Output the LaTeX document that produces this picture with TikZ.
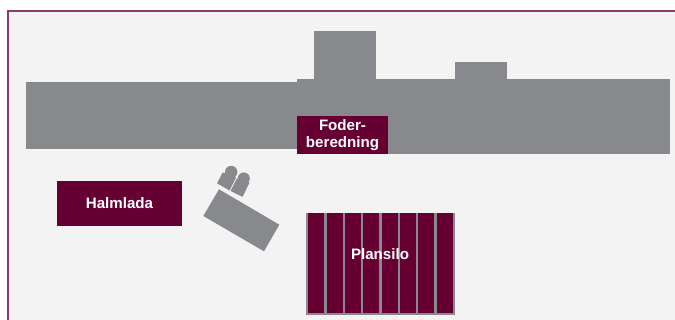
\documentclass[tikz,border=0pt]{standalone}
\usepackage{fontspec}
\setmainfont{Liberation Sans}
\usepackage{xcolor}
\usetikzlibrary{positioning}
\definecolor{wine}{HTML}{660033}
\definecolor{frameline}{HTML}{8A3A6E}
\definecolor{shed}{HTML}{88898C}
\definecolor{yard}{HTML}{F3F3F3}
\tikzset{
  namebox/.style={fill=wine,text=white,font=\fontsize{8.6}{10.5}\selectfont\bfseries,align=center,inner sep=0pt},
  siloline/.style={fill=shed}
}
\begin{document}
\begin{tikzpicture}[x=0.02cm,y=-0.02cm]
  \useasboundingbox (0,0) rectangle (675,320);
  % ground and frame
  \fill[yard] (8,11) rectangle (675,320);
  \draw[frameline,line width=1.1pt] (8,320)--(8,11)--(675,11);
  % barn
  \fill[shed] (26,82) rectangle (297,149);
  \fill[shed] (297,79) rectangle (670,154);
  \fill[shed] (314,31) rectangle (376,79);
  \fill[shed] (455,62) rectangle (507,79);
  \node[namebox,minimum width=91*0.02cm,minimum height=38*0.02cm] (foder) at (342.5,135) {Foder-\\[-0.5pt]beredning};
  % straw barn
  \node[namebox,minimum width=125*0.02cm,minimum height=45*0.02cm] (halmlada) at (119.5,203.5) {Halmlada};
  % tilted hall and the two tanks
  \fill[shed] (219,189.3)--(279.3,224.7)--(264,251.3)--(203.3,216)--cycle;
  \fill[shed] (217,183.3)--(229.5,190.5)--(236,177.5)--(222.7,172.4)--cycle;
  \fill[shed] (231.2,172) circle (6.2);
  \fill[shed] (230.5,191)--(242.5,196.8)--(249.6,182.5)--(236.8,178.5)--cycle;
  \fill[shed] (243.8,178.4) circle (6);
  % silo
  \fill[wine] (306,213) rectangle (455,315);
  \fill[shed] (306,313) rectangle (455,315.3);
  \foreach \i in {0,...,8}{
     \fill[siloline] (306+\i*18.33,213) rectangle (308.2+\i*18.33,315);
  }
  \node[text=white,font=\fontsize{8.6}{10.5}\selectfont\bfseries,inner sep=0pt] (plansilo) at (380,254) {Plansilo};
\end{tikzpicture}
\end{document}
